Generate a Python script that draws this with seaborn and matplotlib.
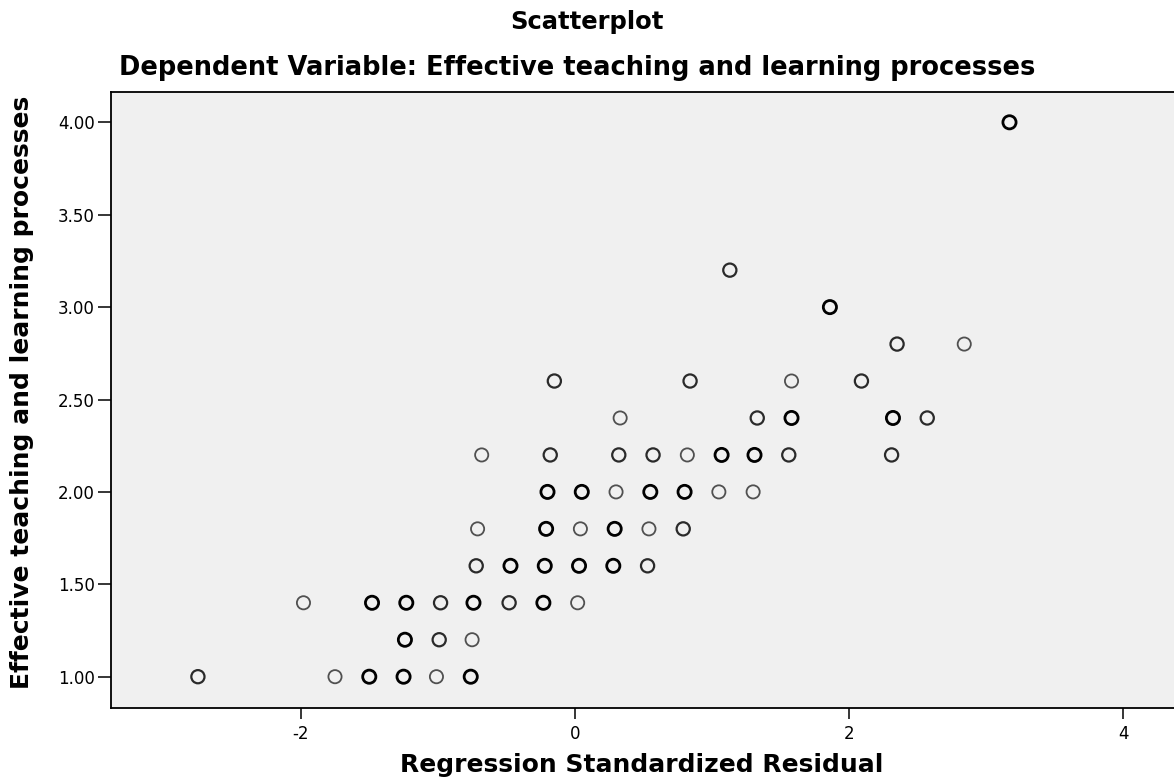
import matplotlib
matplotlib.use("Agg")
import matplotlib.pyplot as plt
import seaborn as sns
import pandas as pd

# Data (x = standardized residual, y = dependent variable)
residual = [
    -2.75, -1.75, -1.50, -1.25, -1.01, -0.76,                      # 1.0
    -1.24, -0.99, -0.75,                                           # 1.2
    -1.98, -1.48, -1.23, -0.98, -0.74, -0.48, -0.23, 0.02,         # 1.4
    -0.72, -0.47, -0.22, 0.03, 0.28, 0.53,                          # 1.6
    -0.71, -0.21, 0.04, 0.29, 0.54, 0.79,                           # 1.8
    -0.20, 0.05, 0.30, 0.55, 0.80, 1.05, 1.30,                      # 2.0
    -0.68, -0.18, 0.32, 0.57, 0.82, 1.07, 1.31, 1.56, 2.31,         # 2.2
    0.33, 1.33, 1.58, 2.32, 2.57,                                   # 2.4
    -0.15, 0.84, 1.58, 2.09,                                        # 2.6
    2.35, 2.84,                                                     # 2.8
    1.86,                                                           # 3.0
    1.13,                                                           # 3.2
    3.17,                                                           # 4.0
]
teaching = (
    [1.0] * 6 + [1.2] * 3 + [1.4] * 8 + [1.6] * 6 + [1.8] * 6 + [2.0] * 7
    + [2.2] * 9 + [2.4] * 5 + [2.6] * 4 + [2.8] * 2 + [3.0] + [3.2] + [4.0]
)
# estimated overplotting (1 = single case, 2 = few, 3 = many)
overlap = [
    2, 1, 3, 3, 1, 3,
    3, 2, 1,
    1, 3, 3, 2, 3, 2, 3, 1,
    2, 3, 3, 3, 3, 2,
    1, 3, 1, 3, 1, 2,
    3, 3, 1, 3, 3, 1, 1,
    1, 2, 2, 2, 1, 3, 3, 2, 2,
    1, 2, 3, 3, 2,
    2, 2, 1, 2,
    2, 1,
    3,
    2,
    3,
]

x_ticks = [-2, 0, 2, 4]
y_ticks = [1.0, 1.5, 2.0, 2.5, 3.0, 3.5, 4.0]
y_tick_labels = ["1.00", "1.50", "2.00", "2.50", "3.00", "3.50", "4.00"]

df = pd.DataFrame({"resid": residual, "y": teaching, "w": overlap})

sns.set_style("ticks")
plt.rcParams["font.family"] = ["DejaVu Sans"]
plt.rcParams["text.color"] = "black"

fig = plt.figure(figsize=(11.74, 7.83), dpi=100)
fig.patch.set_facecolor("white")
ax = fig.add_axes([111 / 1174, (783 - 708.3) / 783, 1 - 111 / 1174, (708.3 - 92) / 783])
ax.set_facecolor("#f0f0f0")

styles = {1: ("#505050", 1.3), 2: ("#2a2a2a", 1.6), 3: ("#000000", 2.0)}
for w, (ec, lw) in styles.items():
    sub = df[df["w"] == w]
    sns.scatterplot(data=sub, x="resid", y="y", ax=ax, s=90, marker="o",
                    facecolor="none", edgecolor=ec, linewidth=lw, legend=False,
                    zorder=3)

ax.set_xlim(-3.384, 4.37)
ax.set_ylim(0.829, 4.164)
ax.set_xticks(x_ticks)
ax.set_xticklabels([str(t) for t in x_ticks])
ax.set_yticks(y_ticks)
ax.set_yticklabels(y_tick_labels)
ax.tick_params(axis="y", length=9.5, width=1.1, pad=2, labelsize=12,
               colors="black", direction="out")
ax.tick_params(axis="x", length=8, width=1.1, pad=4, labelsize=12,
               colors="black", direction="out")
ax.set_xlabel("")
ax.set_ylabel("")
for side in ["left", "bottom", "top"]:
    ax.spines[side].set_color("black")
    ax.spines[side].set_linewidth(1.3)
ax.spines["right"].set_visible(False)
ax.grid(False)

fig.text(0.5, 1 - 22 / 783, "Scatterplot", ha="center", va="center",
         fontsize=17.5, fontweight="bold", color="black")
fig.text(119 / 1174, 1 - 68 / 783,
         "Dependent Variable: Effective teaching and learning processes",
         ha="left", va="center", fontsize=18.5, fontweight="bold", color="black")
fig.text(642 / 1174, 1 - 765 / 783, "Regression Standardized Residual",
         ha="center", va="center", fontsize=18, fontweight="bold", color="black")
fig.text(22 / 1174, 1 - 392 / 783, "Effective teaching and learning processes",
         ha="center", va="center", rotation=90, fontsize=18, fontweight="bold",
         color="black")

fig.savefig("out.png", dpi=100)
